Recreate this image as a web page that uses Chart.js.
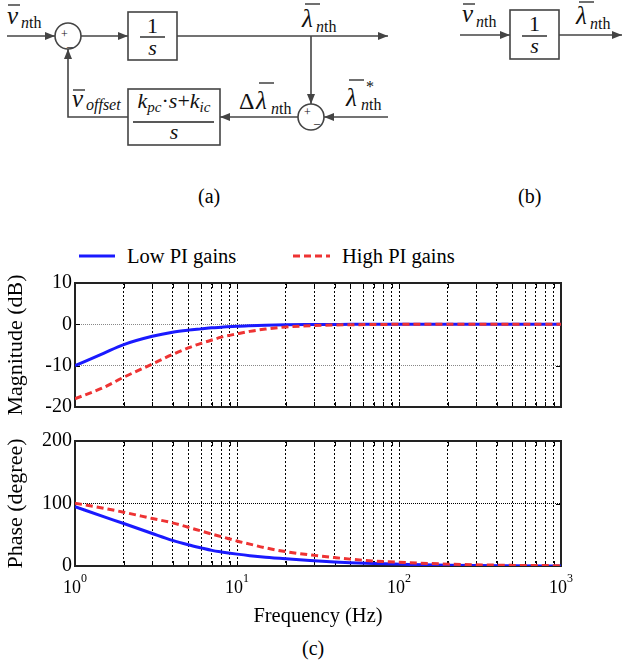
<!DOCTYPE html>
<html>
<head>
<meta charset="utf-8">
<script src="https://cdn.jsdelivr.net/npm/chart.js@4.4.1/dist/chart.umd.min.js"></script>
<style>
  body { margin: 0; background: #fff; width: 622px; height: 666px; position: relative; overflow: hidden;
         font-family: "Liberation Serif", "Times New Roman", serif; color: #000; }
  canvas { position: absolute; left: 0; }
  .lbl { position: absolute; font-size: 20px; line-height: 24px; white-space: nowrap; }
  svg { position: absolute; left: 0; top: 0; }
  svg text { font-family: "Liberation Serif", "Times New Roman", serif; fill: #111; }
</style>
</head>
<body>

<!-- block diagrams (a) and (b) -->
<svg width="622" height="215">
  <defs>
    <marker id="ar" markerWidth="10" markerHeight="8" refX="10" refY="4" orient="auto" markerUnits="userSpaceOnUse">
      <path d="M0,0 L10,4 L0,8 z" fill="#444"/>
    </marker>
  </defs>
  <g stroke="#444" stroke-width="1.6" fill="none">
    <line x1="7" y1="36" x2="55" y2="36" marker-end="url(#ar)"/>
    <circle cx="68" cy="36" r="13"/>
    <line x1="81" y1="36" x2="128" y2="36" marker-end="url(#ar)"/>
    <rect x="128" y="12" width="49" height="48"/>
    <line x1="177" y1="36" x2="388" y2="36" marker-end="url(#ar)"/>
    <line x1="311" y1="36" x2="311" y2="104" marker-end="url(#ar)"/>
    <circle cx="311" cy="117" r="13"/>
    <line x1="388" y1="117" x2="324" y2="117" marker-end="url(#ar)"/>
    <line x1="298" y1="117" x2="220" y2="117" marker-end="url(#ar)"/>
    <rect x="128" y="89" width="92" height="56"/>
    <polyline points="128,117 68,117 68,49" marker-end="url(#ar)"/>
    <line x1="140" y1="37" x2="165" y2="37" stroke="#222" stroke-width="1.4"/>
    <line x1="133" y1="122" x2="214" y2="122" stroke="#222" stroke-width="1.4"/>
    <!-- (b) -->
    <line x1="460" y1="35" x2="510" y2="35" marker-end="url(#ar)"/>
    <rect x="510" y="10" width="49" height="49"/>
    <line x1="559" y1="35" x2="622" y2="35" marker-end="url(#ar)"/>
    <line x1="522" y1="36" x2="547" y2="36" stroke="#222" stroke-width="1.4"/>
    <!-- overbars -->
    <line x1="8" y1="5" x2="20" y2="5" stroke="#222" stroke-width="1.3"/>
    <line x1="305" y1="4" x2="320" y2="4" stroke="#222" stroke-width="1.3"/>
    <line x1="73" y1="90" x2="85" y2="90" stroke="#222" stroke-width="1.3"/>
    <line x1="259" y1="83" x2="274" y2="83" stroke="#222" stroke-width="1.3"/>
    <line x1="349" y1="80" x2="364" y2="80" stroke="#222" stroke-width="1.3"/>
    <line x1="463" y1="4" x2="475" y2="4" stroke="#222" stroke-width="1.3"/>
    <line x1="579" y1="2" x2="594" y2="2" stroke="#222" stroke-width="1.3"/>
  </g>
  <!-- text of (a) -->
  <text x="7" y="24" font-size="25" font-style="italic">v</text>
  <text x="21" y="28" font-size="16"><tspan font-style="italic">n</tspan>th</text>
  <text x="61" y="38" font-size="12">+</text>
  <text x="67" y="46" font-size="12">_</text>
  <text x="152.5" y="33" font-size="22" text-anchor="middle">1</text>
  <text x="152.5" y="55" font-size="22" font-style="italic" text-anchor="middle">s</text>
  <text x="302" y="27" font-size="25" font-style="italic">λ</text>
  <text x="316" y="32" font-size="16"><tspan font-style="italic">n</tspan>th</text>
  <text x="304" y="116" font-size="12">+</text>
  <text x="314" y="123" font-size="12">_</text>
  <text x="72" y="107" font-size="25" font-style="italic">v</text>
  <text x="86" y="110" font-size="16" font-style="italic">offset</text>
  <text x="239" y="109" font-size="24">Δ</text>
  <text x="256" y="109" font-size="25" font-style="italic">λ</text>
  <text x="271" y="114" font-size="16"><tspan font-style="italic">n</tspan>th</text>
  <text x="346" y="106" font-size="25" font-style="italic">λ</text>
  <text x="366" y="92" font-size="16">*</text>
  <text x="361" y="110" font-size="16"><tspan font-style="italic">n</tspan>th</text>
  <text x="174" y="108" font-size="22" text-anchor="middle"><tspan font-style="italic">k</tspan><tspan font-size="15" font-style="italic" dy="4">pc</tspan><tspan dy="-4">·</tspan><tspan font-style="italic">s</tspan>+<tspan font-style="italic">k</tspan><tspan font-size="15" font-style="italic" dy="4">ic</tspan></text>
  <text x="174" y="139" font-size="22" font-style="italic" text-anchor="middle">s</text>
  <!-- text of (b) -->
  <text x="462" y="22" font-size="25" font-style="italic">v</text>
  <text x="476" y="27" font-size="16"><tspan font-style="italic">n</tspan>th</text>
  <text x="534.5" y="31" font-size="22" text-anchor="middle">1</text>
  <text x="534.5" y="53" font-size="22" font-style="italic" text-anchor="middle">s</text>
  <text x="576" y="24" font-size="25" font-style="italic">λ</text>
  <text x="590" y="29" font-size="16"><tspan font-style="italic">n</tspan>th</text>
</svg>

<div class="lbl" style="left:198px;top:184px">(a)</div>
<div class="lbl" style="left:518px;top:184px">(b)</div>

<!-- legend -->
<svg width="622" height="20" style="top:246px">
  <line x1="79" y1="10" x2="115" y2="10" stroke="#1a1aff" stroke-width="3"/>
  <line x1="293" y1="10" x2="330" y2="10" stroke="#ee3333" stroke-width="3" stroke-dasharray="7 4"/>
</svg>
<div class="lbl" style="left:127px;top:244px;font-size:20.5px">Low PI gains</div>
<div class="lbl" style="left:342px;top:244px;font-size:20.5px">High PI gains</div>

<canvas id="mag" width="622" height="154" style="top:268px"></canvas>
<canvas id="phase" width="622" height="208" style="top:426px"></canvas>

<div class="lbl" style="left:302px;top:636px">(c)</div>

<script>
// values (frequency in Hz)
const freq      = [1, 1.5, 2, 3, 4, 5, 6, 7, 8, 10, 12, 15, 20, 30, 40, 50, 70, 100, 200, 500, 1000];
const lowMag    = [-10, -7.0, -4.9, -2.9, -1.9, -1.4, -1.1, -0.85, -0.7, -0.45, -0.32, -0.2, -0.1, -0.05, -0.02, 0, 0, 0, 0, 0, 0];
const highMag   = [-18, -15.3, -12.8, -9.6, -7.3, -5.7, -4.6, -3.8, -3.1, -2.3, -1.7, -1.15, -0.65, -0.3, -0.17, -0.1, -0.05, 0, 0, 0, 0];
const lowPhase  = [95, 79, 68, 52, 41, 34, 29, 25, 22.5, 19, 16.5, 14, 11.5, 8.5, 6.5, 5.3, 4, 3, 1.3, 0.4, 0.1];
const highPhase = [100.5, 92.5, 86, 76, 69, 62, 56, 51, 47, 40, 35, 29, 23, 17, 13.5, 11, 8, 6, 3, 1, 0.5];

const gridFreqs  = [1, 2, 3, 4, 5, 6, 7, 8, 9, 10, 20, 30, 40, 50, 60, 70, 80, 90, 100,
                    200, 300, 400, 500, 600, 700, 800, 900, 1000];
const decades    = [1, 10, 100, 1000];
const decadeExp  = ['0', '1', '2', '3'];
const magTicks   = [-20, -10, 0, 10];
const phaseTicks = [0, 100, 200];

const FONT = '"Liberation Serif", "Times New Roman", serif';
const BLUE = '#1a1aff';
const RED = '#ee3333';

function pts(ys) {
    return freq.map((f, i) => ({x: f, y: ys[i]}));
}

/* frame + little inward ticks, drawn under the curves */
const framePlugin = {
    id: 'frame',
    beforeDatasetsDraw(chart) {
        const {ctx, chartArea: a, scales} = chart;
        ctx.save();
        ctx.strokeStyle = '#000';
        ctx.lineWidth = 1;
        ctx.beginPath();
        gridFreqs.forEach(v => {
            const px = Math.round(scales.x.getPixelForValue(v)) + 0.5;
            ctx.moveTo(px, a.bottom); ctx.lineTo(px, a.bottom - 5);
            ctx.moveTo(px, a.top); ctx.lineTo(px, a.top + 5);
        });
        scales.y.ticks.forEach(t => {
            const py = Math.round(scales.y.getPixelForValue(t.value)) + 0.5;
            ctx.moveTo(a.left, py); ctx.lineTo(a.left + 5, py);
            ctx.moveTo(a.right, py); ctx.lineTo(a.right - 5, py);
        });
        ctx.stroke();
        ctx.lineWidth = 2;
        ctx.strokeStyle = '#222';
        ctx.strokeRect(a.left, a.top, a.right - a.left, a.bottom - a.top);
        ctx.restore();
    }
};

/* 10^n labels under the phase plot */
const decadePlugin = {
    id: 'decades',
    afterDraw(chart) {
        const {ctx, scales} = chart;
        const base = chart.chartArea.bottom + 27;
        ctx.save();
        ctx.fillStyle = '#000';
        ctx.textBaseline = 'alphabetic';
        decades.forEach((v, i) => {
            const px = scales.x.getPixelForValue(v);
            ctx.font = '18px ' + FONT;
            const w = ctx.measureText('10').width;
            ctx.font = '12px ' + FONT;
            const we = ctx.measureText(decadeExp[i]).width;
            const x0 = px - (w + we) / 2;
            ctx.font = '18px ' + FONT;
            ctx.fillText('10', x0, base);
            ctx.font = '12px ' + FONT;
            ctx.fillText(decadeExp[i], x0 + w, base - 11);
        });
        ctx.restore();
    }
};

function makeChart(id, lowData, highData, yMin, yMax, yTicks, yTitle, hGridColor, isBottom) {
    return new Chart(document.getElementById(id), {
        type: 'line',
        data: {
            datasets: [{
                label: 'Low PI gains',
                data: pts(lowData),
                borderColor: BLUE,
                borderWidth: 3,
                pointRadius: 0,
                cubicInterpolationMode: 'monotone',
                order: 1,
            }, {
                label: 'High PI gains',
                data: pts(highData),
                borderColor: RED,
                borderWidth: 3,
                borderDash: [7, 4],
                pointRadius: 0,
                cubicInterpolationMode: 'monotone',
                order: 0,
            }]
        },
        options: {
            responsive: false,
            animation: false,
            devicePixelRatio: 1,
            layout: {padding: {left: 0, right: 61, top: 14, bottom: isBottom ? 0 : 14}},
            plugins: {legend: {display: false}, tooltip: {enabled: false}},
            scales: {
                x: {
                    type: 'logarithmic',
                    min: 1, max: 1000,
                    afterBuildTicks: s => { s.ticks = gridFreqs.map(v => ({value: v})); },
                    ticks: {display: false, autoSkip: false},
                    grid: {color: '#000', lineWidth: 1, drawTicks: false},
                    border: {display: false, dash: [2, 2]},
                    title: {
                        display: isBottom,
                        text: 'Frequency (Hz)',
                        color: '#000',
                        font: {family: FONT, size: 20.5},
                        padding: {top: 0, bottom: 5}
                    },
                    afterFit: s => { s.height = isBottom ? 68 : 0; }
                },
                y: {
                    min: yMin, max: yMax,
                    afterBuildTicks: s => { s.ticks = yTicks.map(v => ({value: v})); },
                    ticks: {color: '#000', font: {family: FONT, size: 20}, padding: 3},
                    grid: {color: hGridColor, lineWidth: 1, drawTicks: false},
                    border: {display: false, dash: [1, 1]},
                    title: {
                        display: true,
                        text: yTitle,
                        color: '#000',
                        font: {family: FONT, size: 22},
                        padding: {top: 3, bottom: 0}
                    },
                    afterFit: s => { s.width = 75; }
                }
            }
        },
        plugins: isBottom ? [framePlugin, decadePlugin] : [framePlugin]
    });
}

makeChart('mag', lowMag, highMag, -20, 10, magTicks, 'Magnitude (dB)', '#888', false);
makeChart('phase', lowPhase, highPhase, 0, 200, phaseTicks, 'Phase (degree)', '#000', true);
</script>
</body>
</html>
